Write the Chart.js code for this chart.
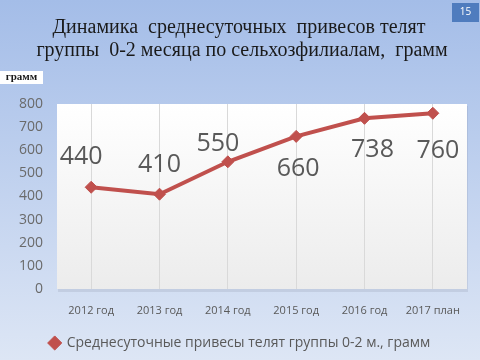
<!DOCTYPE html>
<html>
<head>
<meta charset="utf-8">
<script src="https://cdn.jsdelivr.net/npm/chart.js@4/dist/chart.umd.min.js"></script>
<style>
html,body{margin:0;padding:0;width:480px;height:360px;overflow:hidden;}
#wrap{position:relative;width:480px;height:360px;}
</style>
</head>
<body>
<div id="wrap"><canvas id="c" width="480" height="360"></canvas></div>
<script>
const categories = ['2012 год', '2013 год', '2014 год', '2015 год', '2016 год', '2017 план'];
const seriesValues = [440, 410, 550, 660, 738, 760];
const seriesName = 'Среднесуточные привесы телят группы 0-2 м., грамм';
const titleLines = ['Динамика  среднесуточных  привесов телят', 'группы  0-2 месяца по сельхозфилиалам,  грамм'];
const unitLabel = 'грамм';
const slideNumber = '15';

// label offsets (pixels, relative to point) - styling only
const labelOffsets = [[-10,-30],[0,-29],[-10,-18],[2,32],[8,32],[5,38]];

const decor = {
  id: 'decor',
  beforeDraw(chart) {
    const ctx = chart.ctx, W = chart.width, H = chart.height;
    ctx.save();
    const g = ctx.createLinearGradient(0, 0, 0, H);
    g.addColorStop(0, '#a4bde8');
    g.addColorStop(1, '#dde6f5');
    ctx.fillStyle = g;
    ctx.fillRect(0, 0, W, H);
    const a = chart.chartArea;
    // shadow
    ctx.fillStyle = 'rgba(120,130,150,0.18)';
    ctx.fillRect(a.left + 1, a.top + 2, a.right - a.left, a.bottom - a.top + 1);
    const pg = ctx.createLinearGradient(0, a.top, 0, a.bottom);
    pg.addColorStop(0, '#ffffff');
    pg.addColorStop(1, '#ececec');
    ctx.fillStyle = pg;
    ctx.fillRect(a.left, a.top, a.right - a.left, a.bottom - a.top);
    // title
    ctx.fillStyle = '#1a1a1a';
    ctx.font = '20px "Liberation Serif"';
    ctx.textAlign = 'center';
    ctx.textBaseline = 'alphabetic';
    ctx.fillText(titleLines[0], 239, 33);
    ctx.fillText(titleLines[1], 242, 56);
    // unit box
    ctx.fillStyle = '#ffffff';
    ctx.fillRect(0, 71, 43, 13);
    ctx.fillStyle = '#1a1a1a';
    ctx.font = 'bold 11px "Liberation Serif"';
    ctx.textAlign = 'center';
    ctx.textBaseline = 'middle';
    ctx.fillText(unitLabel, 21.5, 77.5);
    // slide number
    ctx.fillStyle = '#4f7cbe';
    ctx.fillRect(452, 3, 27, 19);
    ctx.fillStyle = '#ffffff';
    ctx.font = '10px "Open Sans"';
    ctx.fillText(slideNumber, 465.5, 12.5);
    ctx.restore();
  },
  afterDatasetsDraw(chart) {
    const ctx = chart.ctx;
    const meta = chart.getDatasetMeta(0);
    ctx.save();
    ctx.fillStyle = '#595959';
    ctx.font = '25px "Open Sans"';
    ctx.textAlign = 'center';
    ctx.textBaseline = 'middle';
    meta.data.forEach((pt, i) => {
      const o = labelOffsets[i];
      ctx.fillText(String(chart.data.datasets[0].data[i]), pt.x + o[0], pt.y + o[1]);
    });
    ctx.restore();
  }
};

new Chart(document.getElementById('c'), {
  type: 'line',
  data: {
    labels: categories,
    datasets: [{
      label: seriesName,
      data: seriesValues,
      borderColor: '#c0504d',
      backgroundColor: '#c0504d',
      borderWidth: 4,
      pointStyle: 'rectRot',
      pointRadius: 6,
      pointHoverRadius: 6,
      pointBorderWidth: 1,
      pointBackgroundColor: '#c0504d',
      pointBorderColor: '#c0504d',
      tension: 0,
      yAxisID: 'y'
    }]
  },
  options: {
    responsive: false,
    animation: false,
    devicePixelRatio: 1,
    layout: { padding: { top: 104, left: 0, right: 0, bottom: 0 } },
    plugins: {
      title: { display: false },
      tooltip: { enabled: false },
      legend: {
        position: 'bottom',
        labels: {
          usePointStyle: true,
          pointStyle: 'rectRot',
          boxWidth: 10,
          boxHeight: 10,
          padding: 10,
          color: '#595959',
          font: { family: '"Open Sans"', size: 14 }
        }
      }
    },
    scales: {
      x: {
        offset: true,
        grid: { display: true, offset: false, color: '#d9d9d9', drawTicks: false },
        border: { display: false },
        ticks: { color: '#595959', font: { family: '"Open Sans"', size: 11 }, padding: 15, maxRotation: 0, autoSkip: false },
        afterFit(s) { s.height = 37; }
      },
      y: {
        min: 0, max: 800,
        ticks: { stepSize: 100, color: '#6a6a6a', font: { family: '"Open Sans"', size: 14 }, padding: 14 },
        grid: { display: false, drawTicks: false },
        border: { display: false },
        afterFit(s) { s.width = 57; }
      },
      yR: {
        position: 'right',
        display: true,
        min: 0, max: 800,
        ticks: { display: false },
        grid: { display: false, drawTicks: false },
        border: { display: false },
        afterFit(s) { s.width = 13; }
      }
    }
  },
  plugins: [decor]
});
</script>
</body>
</html>
